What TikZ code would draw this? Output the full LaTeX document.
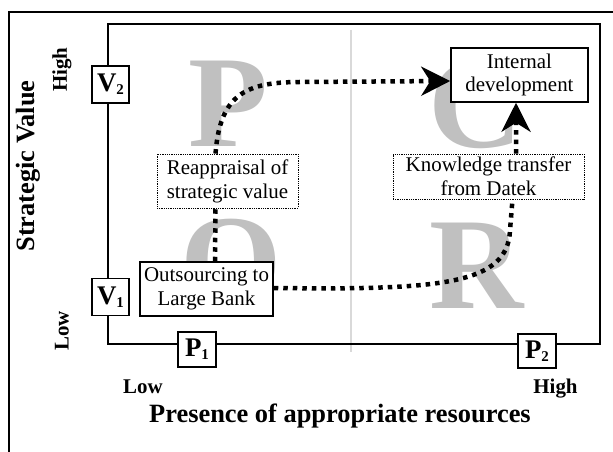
\documentclass[tikz,border=0pt]{standalone}
\usepackage{fontspec}
\setmainfont{Liberation Serif}
\usetikzlibrary{arrows.meta}
\definecolor{biggray}{RGB}{192,192,192}
\definecolor{midline}{RGB}{217,217,217}
\newcommand{\vsub}[2]{\textbf{#1}\raisebox{-3bp}{\fontsize{15}{15}\selectfont\bfseries #2}}
\begin{document}
\begin{tikzpicture}[x=1bp,y=-1bp,
  bigletter/.style={inner sep=0pt,anchor=base,text=biggray,font=\fontsize{131}{131}\selectfont\bfseries},
  framebox/.style={draw,line width=1.5bp,fill=white,inner sep=0pt,align=center,font=\fontsize{21}{24}\selectfont},
  dotbox/.style={draw,densely dotted,line width=0.8bp,fill=white,inner sep=0pt,align=center,font=\fontsize{21}{24}\selectfont},
  markbox/.style={draw,line width=1.5bp,fill=white,inner sep=0pt,font=\fontsize{27}{27}\selectfont},
  axislab/.style={inner sep=0pt,font=\fontsize{21}{21}\selectfont\bfseries},
  axistitle/.style={inner sep=0pt,font=\fontsize{26.5}{26.5}\selectfont\bfseries},
  flow/.style={line width=4.5bp,dash pattern=on 4.5bp off 5bp},
  flowtip/.style={-{Stealth[length=29bp,width=29bp,inset=9bp]}}
]
\clip (0,0) rectangle (613,452);
% outer frame (extends beyond the page)
\draw[line width=1.5bp] (9,470) -- (9,12) -- (630,12);
% big gray letters
\node[bigletter] (lP) at (228,147) {P};
\node[bigletter] (lC) at (476,148) {C};
\node[bigletter] (lO) at (231,306) {O};
\node[bigletter] (lR) at (477,308) {R};
% middle line
\draw[midline,line width=1.2bp] (351,30) -- (351,352);
% axes frame
\draw[line width=1.5bp] (108,24) rectangle (600,344);
% axis markers
\node[markbox,minimum width=37bp,minimum height=37bp] (v2) at (110.5,84.5) {\vsub{V}{2}};
\node[markbox,minimum width=37bp,minimum height=37bp] (v1) at (110.5,297) {\vsub{V}{1}};
\node[markbox,minimum width=38bp,minimum height=35bp] (p1) at (197,349.5) {\vsub{P}{1}};
\node[markbox,minimum width=38bp,minimum height=34bp] (p2) at (537,351) {\vsub{P}{2}};
% axis labels
\node[axislab,rotate=90] (yhigh) at (62,69.5) {High};
\node[axislab,rotate=90] (ylow) at (62,331) {Low};
\node[axistitle,rotate=90] (ytitle) at (28,166) {Strategic Value};
\node[axislab,anchor=base] (xlow) at (143,393) {Low};
\node[axislab,anchor=base] (xhigh) at (555.5,393) {High};
\node[axistitle,anchor=base west] (xtitle) at (149,422) {Presence of appropriate resources};
% boxes
\node[framebox,minimum width=137bp,minimum height=54bp] (intdev) at (519.5,75) {Internal\\development};
\node[dotbox,minimum width=191bp,minimum height=45bp] (know) at (488.5,176.5) {Knowledge transfer\\from Datek};
\node[dotbox,minimum width=141bp,minimum height=54bp] (reap) at (227.5,181) {Reappraisal of\\strategic value};
\node[framebox,minimum width=133bp,minimum height=54bp] (out) at (206.5,289) {Outsourcing to\\Large Bank};
% flows
\draw[flow] ([xshift=8.5bp]out.north) -- ([xshift=-12bp]reap.south);
\draw[flow,flowtip] ([xshift=-12bp]reap.north) .. controls (220,95) and (245,82) .. (300,82) -- ([yshift=-6bp]intdev.west);
\draw[flow] ([yshift=1bp]out.east) .. controls (440,290) and (508,285) .. (510,230) -- ([xshift=24bp]know.south);
\draw[flow,flowtip] ([xshift=27.5bp]know.north) -- ([xshift=-3.5bp]intdev.south);
\end{tikzpicture}
\end{document}
